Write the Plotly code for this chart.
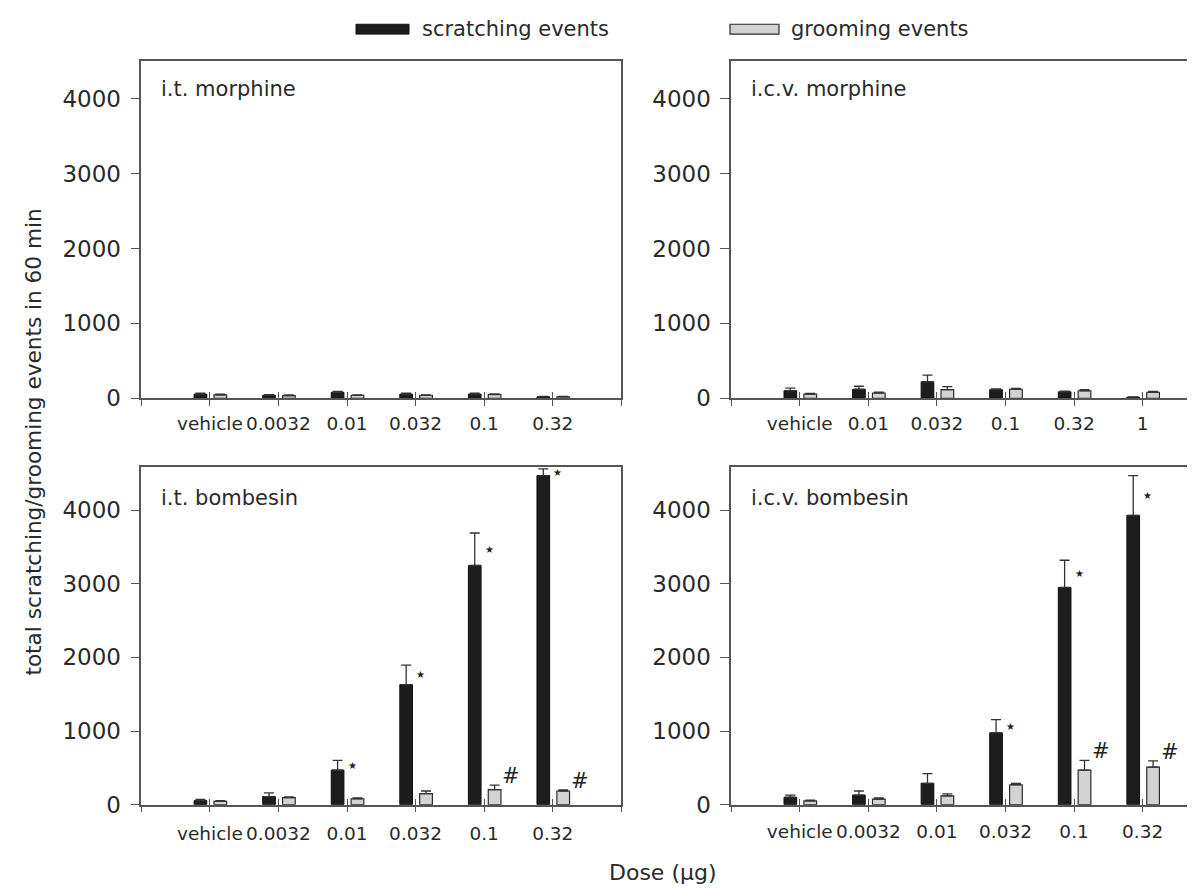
import plotly.graph_objects as go

# ---------------- data ----------------
cats_it_morph = ["vehicle", "0.0032", "0.01", "0.032", "0.1", "0.32"]
cats_icv_morph = ["vehicle", "0.01", "0.032", "0.1", "0.32", "1"]
cats_it_bomb = ["vehicle", "0.0032", "0.01", "0.032", "0.1", "0.32"]
cats_icv_bomb = ["vehicle", "0.0032", "0.01", "0.032", "0.1", "0.32"]

it_morph_scratch = [55, 40, 80, 55, 55, 20]
it_morph_scratch_err = [12, 8, 12, 12, 12, 5]
it_morph_groom = [45, 35, 40, 40, 50, 20]
it_morph_groom_err = [8, 8, 5, 5, 8, 5]

icv_morph_scratch = [100, 120, 220, 115, 85, 15]
icv_morph_scratch_err = [35, 40, 90, 10, 8, 3]
icv_morph_groom = [55, 70, 115, 120, 100, 80]
icv_morph_groom_err = [10, 10, 40, 12, 15, 12]

it_bomb_scratch = [55, 110, 470, 1630, 3250, 4470]
it_bomb_scratch_err = [15, 50, 130, 265, 440, 90]
it_bomb_groom = [45, 95, 80, 150, 205, 185]
it_bomb_groom_err = [10, 10, 10, 35, 60, 15]

icv_bomb_scratch = [100, 130, 290, 975, 2950, 3930]
icv_bomb_scratch_err = [30, 55, 130, 180, 370, 540]
icv_bomb_groom = [50, 75, 120, 270, 470, 510]
icv_bomb_groom_err = [10, 15, 25, 20, 130, 85]

it_bomb_star = [False, False, True, True, True, True]
it_bomb_hash = [False, False, False, False, True, True]
icv_bomb_star = [False, False, False, True, True, True]
icv_bomb_hash = [False, False, False, False, True, True]

panel_titles = ["i.t. morphine", "i.c.v. morphine", "i.t. bombesin", "i.c.v. bombesin"]
y_ticks = [0, 1000, 2000, 3000, 4000]
series_names = ["scratching events", "grooming events"]
y_title = "total scratching/grooming events in 60 min"
x_title = "Dose (µg)"

# ---------------- style ----------------
W, H = 1195, 893
FONT = "DejaVu Sans, Verdana, sans-serif"
TXT = "#2a2a2a"
AX = "#555555"
BLACK_FILL = "#1d1d1d"
GREY_FILL = "#d3d3d3"
OUT = "#2a2a2a"

def px_x(p):
    return p / W

def px_y(p):
    return 1 - p / H

left_dom = [px_x(133.3), px_x(613.3)]
right_dom = [px_x(723.2), 1.0]
top_dom = [px_y(396), px_y(54)]
bot_dom = [px_y(808.4), px_y(466.2)]
unit_px = (613.3 - 133.3) / 7.0
right_max = -1 + (W - 723.2) / unit_px

panels = [
    dict(cats=cats_it_morph, s=it_morph_scratch, se=it_morph_scratch_err,
         g=it_morph_groom, ge=it_morph_groom_err, star=None, hsh=None,
         xd=left_dom, yd=top_dom, xr=[-1, 6], yr=[0, 4505], right=False, ty=28, xs=2),
    dict(cats=cats_icv_morph, s=icv_morph_scratch, se=icv_morph_scratch_err,
         g=icv_morph_groom, ge=icv_morph_groom_err, star=None, hsh=None,
         xd=right_dom, yd=top_dom, xr=[-1, right_max], yr=[0, 4505], right=True, ty=28, xs=2),
    dict(cats=cats_it_bomb, s=it_bomb_scratch, se=it_bomb_scratch_err,
         g=it_bomb_groom, ge=it_bomb_groom_err, star=it_bomb_star, hsh=it_bomb_hash,
         xd=left_dom, yd=bot_dom, xr=[-1, 6], yr=[0, 4581], right=False, ty=31, xs=5),
    dict(cats=cats_icv_bomb, s=icv_bomb_scratch, se=icv_bomb_scratch_err,
         g=icv_bomb_groom, ge=icv_bomb_groom_err, star=icv_bomb_star, hsh=icv_bomb_hash,
         xd=right_dom, yd=bot_dom, xr=[-1, right_max], yr=[0, 4581], right=True, ty=31, xs=3),
]

fig = go.Figure()
layout = dict(
    width=W, height=H, margin=dict(l=0, r=0, t=0, b=0),
    paper_bgcolor="white", plot_bgcolor="white",
    barmode="overlay", showlegend=False,
    font=dict(family=FONT, color=TXT, size=20),
)
annotations = []
shapes = []

BAR_W = 0.185
for i, p in enumerate(panels):
    k = i + 1
    xa = "x" if k == 1 else f"x{k}"
    ya = "y" if k == 1 else f"y{k}"
    ov = f"x{k + 4}"
    idx = list(range(len(p["cats"])))
    fig.add_trace(go.Bar(
        x=idx, y=p["s"], xaxis=xa, yaxis=ya, name=series_names[0],
        width=BAR_W, offset=-0.23,
        marker=dict(color=BLACK_FILL, line=dict(color="#111111", width=1)),
        error_y=dict(type="data", symmetric=False, array=p["se"],
                     arrayminus=[0] * len(idx), color="#333333",
                     thickness=1.3, width=5),
    ))
    fig.add_trace(go.Bar(
        x=idx, y=p["g"], xaxis=xa, yaxis=ya, name=series_names[1],
        width=BAR_W, offset=0.06,
        marker=dict(color=GREY_FILL, line=dict(color=OUT, width=1.2)),
        error_y=dict(type="data", symmetric=False, array=p["ge"],
                     arrayminus=[0] * len(idx), color="#333333",
                     thickness=1.3, width=5),
    ))
    # invisible trace to materialise the overlay tick axis
    fig.add_trace(go.Scatter(x=[], y=[], xaxis=ov, yaxis=ya, showlegend=False))

    tickvals = [-1] + idx + [len(idx)]
    ticktext = [""] + p["cats"] + [""]
    layout["xaxis" if k == 1 else f"xaxis{k}"] = dict(
        domain=p["xd"], anchor=ya, range=p["xr"], type="linear",
        tickmode="array", tickvals=tickvals, ticktext=ticktext, tickangle=0,
        ticks="outside", ticklen=6, tickwidth=1.3, tickcolor=AX,
        showline=True, linecolor=AX, linewidth=1.5, mirror=True,
        showgrid=False, zeroline=False,
        tickfont=dict(size=18.5, color=TXT, family=FONT), ticklabelstandoff=p["xs"],
    )
    layout[f"xaxis{k + 4}"] = dict(
        domain=p["xd"], anchor=ya, overlaying=xa, range=p["xr"], type="linear",
        tickmode="array", tickvals=tickvals, ticktext=[""] * len(tickvals),
        ticks="inside", ticklen=6, tickwidth=1.3, tickcolor=AX,
        showline=False, showgrid=False, zeroline=False, showticklabels=False,
    )
    layout["yaxis" if k == 1 else f"yaxis{k}"] = dict(
        domain=p["yd"], anchor=xa, range=p["yr"],
        tickmode="array", tickvals=y_ticks,
        ticks="outside", ticklen=9, tickwidth=1.3, tickcolor=AX,
        showline=True, linecolor=AX, linewidth=1.5,
        mirror=(not p["right"]),
        showgrid=False, zeroline=False,
        tickfont=dict(size=23, color=TXT, family=FONT), ticklabelstandoff=5,
    )
    # panel title
    annotations.append(dict(
        text=panel_titles[i], xref=f"{xa} domain", yref=f"{ya} domain",
        x=18 / 480, y=1 - p["ty"] / 342, xanchor="left", yanchor="middle",
        showarrow=False, font=dict(size=21, color=TXT, family=FONT)))
    # significance markers
    if p["star"]:
        for j in idx:
            if p["star"][j]:
                annotations.append(dict(
                    text="★", xref=xa, yref=ya, x=j, y=p["s"][j] + p["se"][j] / 2,
                    xanchor="center", yanchor="middle", xshift=5, showarrow=False,
                    font=dict(size=10, color="#222222", family="DejaVu Sans")))
    if p["hsh"]:
        for j in idx:
            if p["hsh"][j]:
                annotations.append(dict(
                    text="#", xref=xa, yref=ya, x=j, y=p["g"][j] + p["ge"][j],
                    xanchor="center", yanchor="middle", xshift=27, yshift=9,
                    showarrow=False, font=dict(size=21, color="#222222", family=FONT)))

# axis titles
annotations.append(dict(
    text=y_title, xref="paper", yref="paper", x=px_x(26), y=px_y(441),
    xanchor="center", yanchor="middle", textangle=-90, showarrow=False,
    font=dict(size=21.6, color=TXT, family=FONT)))
annotations.append(dict(
    text=x_title, xref="paper", yref="paper", x=px_x(655), y=px_y(877),
    xanchor="center", yanchor="middle", showarrow=False,
    font=dict(size=22, color=TXT, family=FONT)))

# legend (manual swatches)
shapes.append(dict(type="rect", xref="paper", yref="paper",
                   x0=px_x(348), x1=px_x(401), y0=px_y(26.5), y1=px_y(16.5),
                   fillcolor=BLACK_FILL, line=dict(color="#111111", width=1)))
shapes.append(dict(type="rect", xref="paper", yref="paper",
                   x0=px_x(722), x1=px_x(771), y0=px_y(26.5), y1=px_y(16.5),
                   fillcolor=GREY_FILL, line=dict(color=OUT, width=1.2)))
annotations.append(dict(text=series_names[0], xref="paper", yref="paper",
                        x=px_x(412), y=px_y(21), xanchor="left", yanchor="middle",
                        showarrow=False, font=dict(size=21, color=TXT, family=FONT)))
annotations.append(dict(text=series_names[1], xref="paper", yref="paper",
                        x=px_x(781), y=px_y(21), xanchor="left", yanchor="middle",
                        showarrow=False, font=dict(size=21, color=TXT, family=FONT)))

layout["annotations"] = annotations
layout["shapes"] = shapes
fig.update_layout(**layout)
fig.write_html("out.html")
